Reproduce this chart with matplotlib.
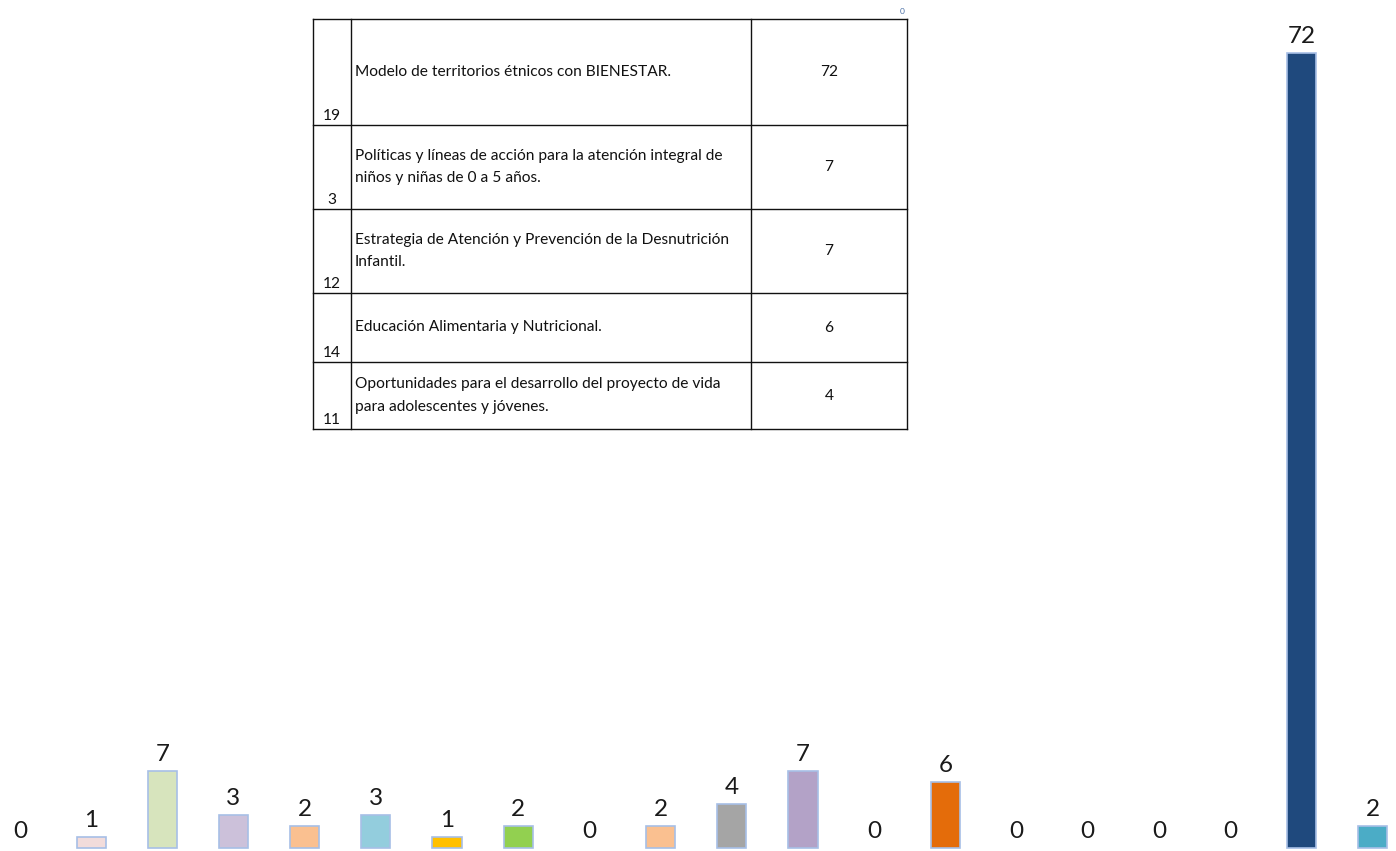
import matplotlib
matplotlib.use("Agg")
import matplotlib.pyplot as plt

# bar chart data (20 categories)
values = [0, 1, 7, 3, 2, 3, 1, 2, 0, 2, 4, 7, 0, 6, 0, 0, 0, 0, 72, 2]
colors = ['#f2dcdb', '#f2dcdb', '#d7e4bd', '#ccc1da', '#fac090', '#93cddd',
          '#ffc000', '#92d050', '#ffffff', '#fac090', '#a5a5a5', '#b3a2c7',
          '#ffffff', '#e46c0a', '#ffffff', '#ffffff', '#ffffff', '#ffffff',
          '#1f497d', '#4bacc6']

# overlaid table
row_ids = ['19', '3', '12', '14', '11']
row_texts = [
    'Modelo de territorios étnicos con BIENESTAR.',
    'Políticas y líneas de acción para la atención integral de\nniños y niñas de 0 a 5 años.',
    'Estrategia de Atención y Prevención de la Desnutrición\nInfantil.',
    'Educación Alimentaria y Nutricional.',
    'Oportunidades para el desarrollo del proyecto de vida\npara adolescentes y jóvenes.',
]
row_values = ['72', '7', '7', '6', '4']

W, H = 1396, 851
fig = plt.figure(figsize=(W / 100, H / 100), dpi=100)
plt.rcParams['font.family'] = ['Lato', 'DejaVu Sans']

ax = fig.add_axes([0, 0, 1, 1])
x = range(len(values))
bars = ax.bar(x, values, width=0.41, color=colors, edgecolor='#a7bfe6', linewidth=1.2)
for b, v in zip(bars, values):
    if v == 0:
        b.set_visible(False)
    ax.annotate(str(v), (b.get_x() + b.get_width() / 2, v), xytext=(0, 4),
                textcoords='offset points', ha='center', va='bottom',
                fontsize=17.5, color='#1a1a1a')
ax.set_xlim(-0.28, 19.33)
ax.set_ylim(-0.27, 76.8)
ax.axis('off')

# table axes in pixel coordinates
tl, tr, tt, tb = 313, 907, 19, 429
tax = fig.add_axes([tl / W, (H - tb) / H, (tr - tl) / W, (tb - tt) / H])
tax.set_xlim(tl, tr)
tax.set_ylim(tb, tt)
tax.axis('off')
col_edges = [313, 351, 751, 907]
row_edges = [19, 125, 209, 293, 362, 429]
for cx in col_edges:
    tax.plot([cx, cx], [row_edges[0], row_edges[-1]], color='#111111', lw=1, clip_on=False)
for ry in row_edges:
    tax.plot([col_edges[0], col_edges[-1]], [ry, ry], color='#111111', lw=1, clip_on=False)

fs = 11.2
for i in range(len(row_ids)):
    top, bot = row_edges[i], row_edges[i + 1]
    mid = (top + bot) / 2
    tax.text((col_edges[0] + col_edges[1]) / 2, bot - 2, row_ids[i],
             ha='center', va='bottom', fontsize=fs, color='#111111')
    tax.text(col_edges[1] + 4, mid, row_texts[i], ha='left', va='center',
             fontsize=fs, color='#111111', linespacing=1.8)
    tax.text((col_edges[2] + col_edges[3]) / 2, mid, row_values[i],
             ha='center', va='center', fontsize=fs, color='#111111')

fig.text(902 / W, 1 - 12 / H, '0', ha='center', va='center', fontsize=6, color='#4a6fa5')

fig.savefig('out.png', dpi=100)
